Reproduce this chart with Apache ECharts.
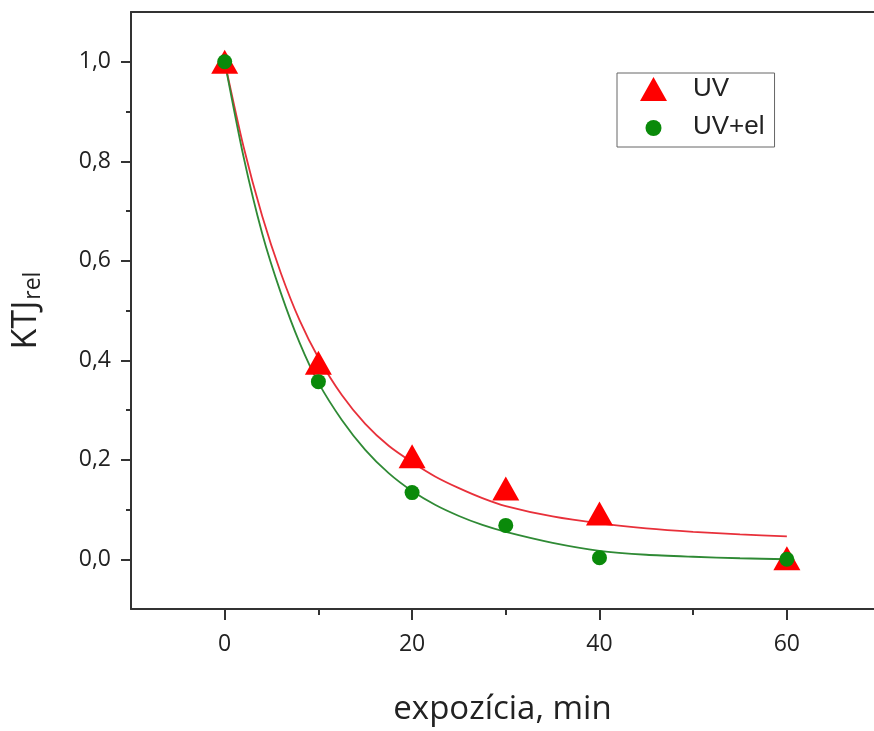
<!DOCTYPE html>
<html>
<head>
<meta charset="utf-8">
<script src="https://cdn.jsdelivr.net/npm/echarts@6/dist/echarts.min.js"></script>
<style>
html,body{margin:0;padding:0;background:#fff;}
#chart{width:874px;height:731px;}
</style>
</head>
<body>
<div id="chart"></div>
<script>
// measured points
const xPoints = [0, 10, 20, 30, 40, 60];
const uvValues = [1.0, 0.395, 0.207, 0.142, 0.092, 0.002];
const uvElValues = [1.0, 0.357, 0.134, 0.068, 0.003, 0.0];
// fitted curves
const fitX = [0, 2, 4, 6, 8, 10, 12.5, 15, 17.5, 20, 22.5, 25, 27.5, 30, 35, 40, 45, 50, 55, 60];
const uvFit = [1.0, 0.83, 0.69, 0.575, 0.48, 0.405, 0.33, 0.272, 0.228, 0.195, 0.166, 0.143, 0.123, 0.107, 0.086, 0.072, 0.062, 0.055, 0.05, 0.046];
const uvElFit = [1.0, 0.81, 0.655, 0.535, 0.435, 0.355, 0.28, 0.22, 0.173, 0.137, 0.109, 0.087, 0.069, 0.055, 0.033, 0.017, 0.009, 0.005, 0.002, 0.0];
// ticks
const xMajorTicks = [0, 20, 40, 60];
const xMinorTicks = [10, 30, 50];
const yMajorTicks = [0, 0.2, 0.4, 0.6, 0.8, 1.0];
const yMinorTicks = [0.1, 0.3, 0.5, 0.7, 0.9];
const seriesNames = ['UV', 'UV+el'];

const zip = (xs, ys) => xs.map((x, i) => [x, ys[i]]);
const svgIcon = (inner) => 'image://data:image/svg+xml;utf8,' + encodeURIComponent(
  '<svg xmlns="http://www.w3.org/2000/svg" width="48" height="24" viewBox="0 0 48 24">' + inner + '</svg>');

const axisColor = '#333';
const font = '"Open Sans", "Noto Sans", sans-serif';
const X_MIN = -10, X_MAX = 69.3;

const chart = echarts.init(document.getElementById('chart'), null, {renderer: 'canvas'});
chart.setOption({
  animation: false,
  backgroundColor: '#fff',
  grid: {left: 131, right: 0, top: 12, bottom: 116, containLabel: false},
  legend: {
    orient: 'vertical',
    left: 617, top: 73,
    padding: [3, 10, 7, 23],
    itemWidth: 48, itemHeight: 24, itemGap: 12,
    borderColor: '#666', borderWidth: 1, backgroundColor: '#fff',
    textStyle: {fontFamily: '"Liberation Sans", Arial, sans-serif', fontSize: 26, color: '#222'},
    data: [
      {name: seriesNames[0], icon: svgIcon('<polygon points="0,24 13.5,0 27,24" fill="#ff0000"/>')},
      {name: seriesNames[1], icon: svgIcon('<circle cx="13.5" cy="13" r="8" fill="#0a8a0a"/>')}
    ]
  },
  xAxis: [
    {
      type: 'value', position: 'bottom', min: X_MIN, max: X_MAX,
      axisLine: {show: true, onZero: false, lineStyle: {color: axisColor, width: 2}},
      axisTick: {show: true, customValues: xMajorTicks, length: 11, inside: false, lineStyle: {color: axisColor, width: 2}},
      axisLabel: {customValues: xMajorTicks, margin: 24, fontSize: 23, color: '#222', fontFamily: font},
      splitLine: {show: false},
      name: 'expozícia, min', nameLocation: 'middle', nameGap: 84,
      nameTextStyle: {fontSize: 33, color: '#222', fontFamily: font}
    },
    {
      type: 'value', position: 'bottom', min: X_MIN, max: X_MAX,
      axisLine: {show: false, onZero: false},
      axisTick: {show: true, customValues: xMinorTicks, length: 6, lineStyle: {color: axisColor, width: 2}},
      axisLabel: {show: false},
      splitLine: {show: false}
    },
    {
      type: 'value', position: 'top', min: X_MIN, max: X_MAX,
      axisLine: {show: true, onZero: false, lineStyle: {color: axisColor, width: 2}},
      axisTick: {show: false}, axisLabel: {show: false}, splitLine: {show: false}
    }
  ],
  yAxis: [
    {
      type: 'value', position: 'left', min: -0.1, max: 1.1,
      axisLine: {show: true, onZero: false, lineStyle: {color: axisColor, width: 2}},
      axisTick: {show: true, customValues: yMajorTicks, length: 10, lineStyle: {color: axisColor, width: 2}},
      axisLabel: {customValues: yMajorTicks, margin: 20, fontSize: 23, color: '#222', fontFamily: font,
        formatter: v => v.toFixed(1).replace('.', ',')},
      splitLine: {show: false},
      name: '{a|KTJ}{b|rel}', nameLocation: 'middle', nameGap: 86, nameRotate: 90,
      nameTextStyle: {
        fontFamily: font, color: '#222',
        rich: {
          a: {fontSize: 34, fontFamily: font, color: '#222'},
          b: {fontSize: 23, fontFamily: font, color: '#222', padding: [14, 0, 0, 1]}
        }
      }
    },
    {
      type: 'value', position: 'left', min: -0.1, max: 1.1,
      axisLine: {show: false, onZero: false},
      axisTick: {show: true, customValues: yMinorTicks, length: 5, lineStyle: {color: axisColor, width: 2}},
      axisLabel: {show: false}, splitLine: {show: false}
    }
  ],
  series: [
    {
      name: 'UV fit', type: 'line', xAxisIndex: 0, yAxisIndex: 0,
      data: zip(fitX, uvFit), smooth: 0.25, showSymbol: false, symbol: 'none',
      lineStyle: {color: '#e8303a', width: 1.8}, z: 2, silent: true
    },
    {
      name: 'UV+el fit', type: 'line', xAxisIndex: 0, yAxisIndex: 0,
      data: zip(fitX, uvElFit), smooth: 0.25, showSymbol: false, symbol: 'none',
      lineStyle: {color: '#2f8a35', width: 1.8}, z: 2, silent: true
    },
    {
      name: seriesNames[0], type: 'scatter', xAxisIndex: 0, yAxisIndex: 0,
      data: zip(xPoints, uvValues), symbol: 'triangle', symbolSize: [27, 24],
      itemStyle: {color: '#ff0000', opacity: 1}, z: 3
    },
    {
      name: seriesNames[1], type: 'scatter', xAxisIndex: 0, yAxisIndex: 0,
      data: zip(xPoints, uvElValues), symbol: 'circle', symbolSize: 15,
      itemStyle: {color: '#0a8a0a', opacity: 1}, z: 4
    }
  ]
});
</script>
</body>
</html>
